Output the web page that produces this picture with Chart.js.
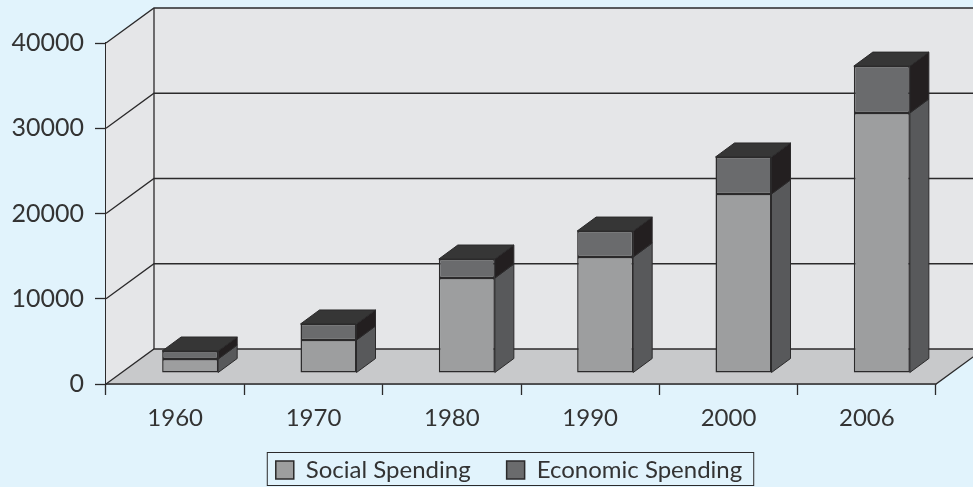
<!DOCTYPE html>
<html>
<head>
<meta charset="utf-8">
<title>Social and Economic Spending</title>
<script src="https://cdn.jsdelivr.net/npm/chart.js@4"></script>
<style>
    html, body { margin: 0; padding: 0; background: #e1f3fc; overflow: hidden; }
    canvas { display: block; }
</style>
</head>
<body>
<canvas id="spendingChart" width="973" height="487"></canvas>
<script>
// Values
const years = ['1960', '1970', '1980', '1990', '2000', '2006'];
const socialSpending = [1640, 3870, 11140, 13600, 21000, 30500];
const economicSpending = [940, 1880, 2230, 3050, 4340, 5500];

const inkColor = '#2b2a2b';
const socialColor = '#9d9e9f';
const socialSide = '#58595b';
const economicColor = '#6a6b6d';
const economicSide = '#231f20';
const topColor = '#363636';

// Depth of the fake 3D box, and of the bars standing inside it
const wallDepth = { x: 48, y: -35 };
const barOffset = { x: 15, y: -11 };
const barDepth = { x: 19, y: -14 };

function fillPoly(ctx, points, color) {
    ctx.beginPath();
    points.forEach((p, i) => i ? ctx.lineTo(p[0], p[1]) : ctx.moveTo(p[0], p[1]));
    ctx.closePath();
    ctx.fillStyle = color;
    ctx.fill();
    ctx.stroke();
}

// Back wall, side wall and floor
function drawBox(chart) {
    const ctx = chart.ctx;
    const { left, right, top, bottom } = chart.chartArea;
    const y = chart.scales.y;
    const dx = wallDepth.x, dy = wallDepth.y;

    ctx.save();
    ctx.strokeStyle = 'rgba(0,0,0,0)';
    fillPoly(ctx, [[left + dx, top + dy], [right + dx, top + dy], [right + dx, bottom + dy], [left + dx, bottom + dy]], '#e5e6e8');
    fillPoly(ctx, [[left, top], [left + dx, top + dy], [left + dx, bottom + dy], [left, bottom]], '#e5e6e8');
    fillPoly(ctx, [[left, bottom], [left + dx, bottom + dy], [right + dx, bottom + dy], [right, bottom]], '#c8c9cb');

    ctx.strokeStyle = inkColor;
    ctx.lineWidth = 1.3;
    y.ticks.forEach(t => {
        const py = y.getPixelForValue(t.value);
        ctx.beginPath();
        ctx.moveTo(left, py);
        ctx.lineTo(left + dx, py + dy);
        ctx.lineTo(right + dx, py + dy);
        ctx.stroke();
    });
    ctx.beginPath();
    ctx.moveTo(left + dx, top + dy);
    ctx.lineTo(left + dx, bottom + dy);
    ctx.moveTo(left, bottom);
    ctx.lineTo(right, bottom);
    ctx.lineTo(right + dx, bottom + dy);
    ctx.stroke();
    ctx.restore();
}

// Side and top faces for each bar, taken from the bar elements
function drawBarFaces(chart) {
    const ctx = chart.ctx;
    const dx = barDepth.x, dy = barDepth.y;
    ctx.strokeStyle = inkColor;
    ctx.lineWidth = 1;
    const sides = [socialSide, economicSide];
    chart.data.datasets.forEach((ds, d) => {
        chart.getDatasetMeta(d).data.forEach(bar => {
            const l = bar.x - bar.width / 2;
            const r = bar.x + bar.width / 2;
            fillPoly(ctx, [[r, bar.y], [r + dx, bar.y + dy], [r + dx, bar.base + dy], [r, bar.base]], sides[d]);
            if (d === chart.data.datasets.length - 1) {
                fillPoly(ctx, [[l, bar.y], [l + dx, bar.y + dy], [r + dx, bar.y + dy], [r, bar.y]], topColor);
            }
        });
    });
}

const box3d = {
    id: 'box3d',
    afterLayout(chart) {
        // Legend sits right of the chart centre in the original, and closer to the axis
        chart.legend.left += 41;
        chart.legend.right += 41;
        chart.legend.top -= 6;
        chart.legend.bottom -= 6;
    },
    beforeDatasetsDraw(chart) {
        drawBox(chart);
        chart.ctx.save();
        chart.ctx.translate(barOffset.x, barOffset.y);
        drawBarFaces(chart);
    },
    afterDatasetsDraw(chart) {
        chart.ctx.restore();
    },
    afterDraw(chart) {
        // Frame round the legend
        const ctx = chart.ctx;
        const lg = chart.legend;
        const first = lg.legendHitBoxes[0];
        const last = lg.legendHitBoxes[lg.legendHitBoxes.length - 1];
        ctx.save();
        ctx.strokeStyle = inkColor;
        ctx.lineWidth = 1;
        ctx.strokeRect(first.left - 8.5, 452.5, last.left + last.width - first.left + 20, 33);
        ctx.restore();
    }
};

new Chart(document.getElementById('spendingChart'), {
    type: 'bar',
    data: {
        labels: years,
        datasets: [
            { label: 'Social Spending', data: socialSpending, backgroundColor: socialColor, borderColor: inkColor, borderWidth: 1.5, borderSkipped: false },
            { label: 'Economic Spending', data: economicSpending, backgroundColor: economicColor, borderColor: inkColor, borderWidth: 1.5, borderSkipped: false }
        ]
    },
    plugins: [box3d],
    options: {
        responsive: false,
        animation: false,
        layout: { padding: { left: 0, right: 37, top: 43, bottom: -11 } },
        datasets: { bar: { barPercentage: 0.405, categoryPercentage: 1 } },
        plugins: {
            tooltip: { enabled: false },
            legend: {
                position: 'bottom',
                labels: {
                    boxWidth: 18,
                    boxHeight: 18,
                    padding: 36,
                    color: '#333333',
                    font: { family: 'Lato', size: 24 }
                }
            }
        },
        scales: {
            x: {
                stacked: true,
                afterFit(scale) { scale.height = 44; },
                border: { color: inkColor, width: 1.3 },
                grid: { drawOnChartArea: false, tickLength: 11, tickColor: inkColor, tickWidth: 1.3 },
                ticks: { color: '#333333', padding: 9, maxRotation: 0, font: { family: 'Lato', size: 24 } }
            },
            y: {
                stacked: true,
                min: 0,
                max: 40000,
                afterFit(scale) { scale.width = 106; },
                border: { color: inkColor, width: 1.3 },
                grid: { drawOnChartArea: false, tickLength: 11, tickColor: inkColor, tickWidth: 1.3 },
                ticks: {
                    stepSize: 10000,
                    color: '#333333',
                    padding: 11,
                    font: { family: 'Lato', size: 25 },
                    callback: value => String(value)
                }
            }
        }
    }
});
</script>
</body>
</html>
